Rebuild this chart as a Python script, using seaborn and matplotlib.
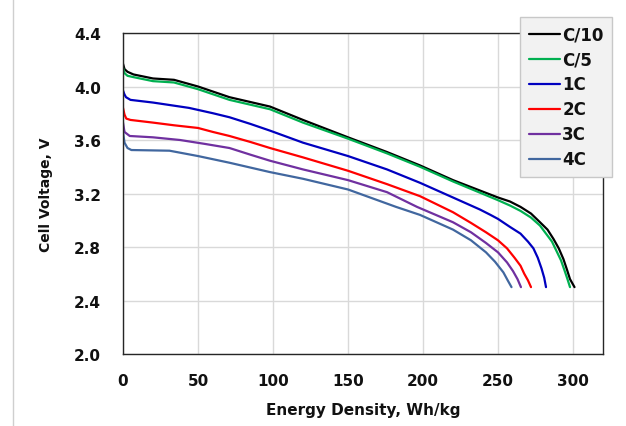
import pandas as pd
import matplotlib
matplotlib.use("Agg")
import matplotlib.pyplot as plt
import seaborn as sns
from matplotlib.lines import Line2D

# discharge curves
rates = ["C/10", "C/5", "1C", "2C", "3C", "4C"]
colors = ["#000000", "#00b050", "#0000c0", "#ff0000", "#7030a0", "#41679f"]

c10_x = [0, 1, 3, 7, 20, 34, 50, 71, 98, 120, 150, 176, 198, 220, 250, 258, 265, 272,
         278, 283, 287, 290.5, 293.6, 296, 298, 300, 301]
c10_y = [4.17, 4.13, 4.11, 4.09, 4.06, 4.05, 4.00, 3.92, 3.85, 3.75, 3.62, 3.51, 3.41, 3.30,
         3.17, 3.14, 3.10, 3.05, 2.985, 2.93, 2.86, 2.79, 2.71, 2.63, 2.56, 2.52, 2.50]

c5_x = [0, 1, 3, 7, 20, 34, 50, 71, 98, 120, 150, 176, 198, 220, 250, 258, 265, 272,
        278, 282, 286, 289, 292, 294.5, 296.3, 298]
c5_y = [4.14, 4.10, 4.08, 4.07, 4.04, 4.03, 3.98, 3.90, 3.83, 3.73, 3.61, 3.50, 3.40, 3.29,
        3.15, 3.11, 3.07, 3.02, 2.96, 2.90, 2.84, 2.77, 2.70, 2.62, 2.56, 2.50]

c1_x = [0, 1, 2, 5, 20, 44, 60, 71, 85, 98, 120, 150, 176, 198, 220, 238, 245, 250, 258,
        265, 270, 273.6, 276.5, 279, 280.8, 282]
c1_y = [3.97, 3.94, 3.92, 3.90, 3.88, 3.84, 3.80, 3.77, 3.72, 3.67, 3.58, 3.48, 3.38, 3.28,
        3.17, 3.08, 3.04, 3.01, 2.95, 2.90, 2.84, 2.79, 2.72, 2.64, 2.57, 2.50]

c2_x = [0, 1, 2.2, 5, 20, 34, 50, 60, 71, 85, 98, 120, 150, 176, 198, 220, 232, 242, 250,
        256, 261, 265, 267.5, 270, 272]
c2_y = [3.84, 3.79, 3.76, 3.75, 3.73, 3.71, 3.69, 3.66, 3.63, 3.585, 3.54, 3.47, 3.37, 3.27,
        3.18, 3.06, 2.98, 2.91, 2.85, 2.79, 2.72, 2.66, 2.60, 2.55, 2.50]

c3_x = [0, 1, 4.5, 20, 38, 55, 71, 85, 98, 120, 150, 176, 196, 220, 232, 242, 250, 256,
        260, 263, 265.3]
c3_y = [3.73, 3.66, 3.63, 3.62, 3.60, 3.57, 3.54, 3.49, 3.445, 3.38, 3.30, 3.21, 3.10,
        2.985, 2.91, 2.83, 2.76, 2.685, 2.62, 2.56, 2.50]

c4_x = [0, 1, 3, 5.6, 31, 50, 71, 98, 120, 150, 182, 198, 220, 232, 242, 248, 253.6,
        256.5, 259]
c4_y = [3.66, 3.58, 3.54, 3.525, 3.52, 3.48, 3.43, 3.36, 3.31, 3.23, 3.10, 3.04, 2.93,
        2.85, 2.76, 2.69, 2.61, 2.55, 2.50]

x_ticks = [0, 50, 100, 150, 200, 250, 300]
y_ticks = [2.0, 2.4, 2.8, 3.2, 3.6, 4.0, 4.4]

curves = [(c10_x, c10_y), (c5_x, c5_y), (c1_x, c1_y),
          (c2_x, c2_y), (c3_x, c3_y), (c4_x, c4_y)]
frames = []
for rate, (xs, ys) in zip(rates, curves):
    frames.append(pd.DataFrame({"energy": xs, "voltage": ys, "rate": rate}))
df = pd.concat(frames, ignore_index=True)

sns.set_style("white")
plt.rcParams["font.family"] = ["DejaVu Sans"]
plt.rcParams["font.weight"] = "bold"
for key in ["text.color", "axes.labelcolor", "xtick.color", "ytick.color"]:
    plt.rcParams[key] = "#111111"

fig = plt.figure(figsize=(6.26, 4.27), dpi=100)
ax = fig.add_axes([123 / 626, 1 - 355 / 427, 480 / 626, 321 / 427])

sns.lineplot(data=df, x="energy", y="voltage", hue="rate", hue_order=rates,
             palette=dict(zip(rates, colors)), sort=False, estimator=None,
             linewidth=1.6, ax=ax)

ax.set_xlim(0, 320)
ax.set_ylim(2.0, 4.4)
ax.set_xticks(x_ticks)
ax.set_yticks(y_ticks)
ax.set_yticklabels([f"{v:.1f}" for v in y_ticks])
ax.grid(True, color="#d9d9d9", linewidth=1)
ax.set_axisbelow(True)
ax.tick_params(axis="both", length=0, labelsize=11)
ax.tick_params(axis="y", pad=16)
ax.tick_params(axis="x", pad=14)
for s in ax.spines.values():
    s.set_color("#262626")
    s.set_linewidth(1)

ax.set_xlabel("Energy Density, Wh/kg", fontsize=11, fontweight="bold", labelpad=10)
ax.set_ylabel("Cell Voltage, V", fontsize=10, fontweight="bold", labelpad=15)

leg = ax.legend(loc="upper right", bbox_to_anchor=(612 / 626, 1 - 18 / 427),
                bbox_transform=fig.transFigure, fontsize=12, frameon=True,
                fancybox=False, framealpha=1, facecolor="#f2f2f2",
                edgecolor="#c8c8c8", handlelength=1.9, handletextpad=0.12,
                labelspacing=0.42, borderpad=0.5, borderaxespad=0)
for h in leg.get_lines():
    h.set_linewidth(1.6)

# faint page border on the left of the picture
fig.add_artist(Line2D([13 / 626, 13 / 626], [0, 1], color="#cfcfcf", lw=1,
                      transform=fig.transFigure))

fig.savefig("out.png", dpi=100)
